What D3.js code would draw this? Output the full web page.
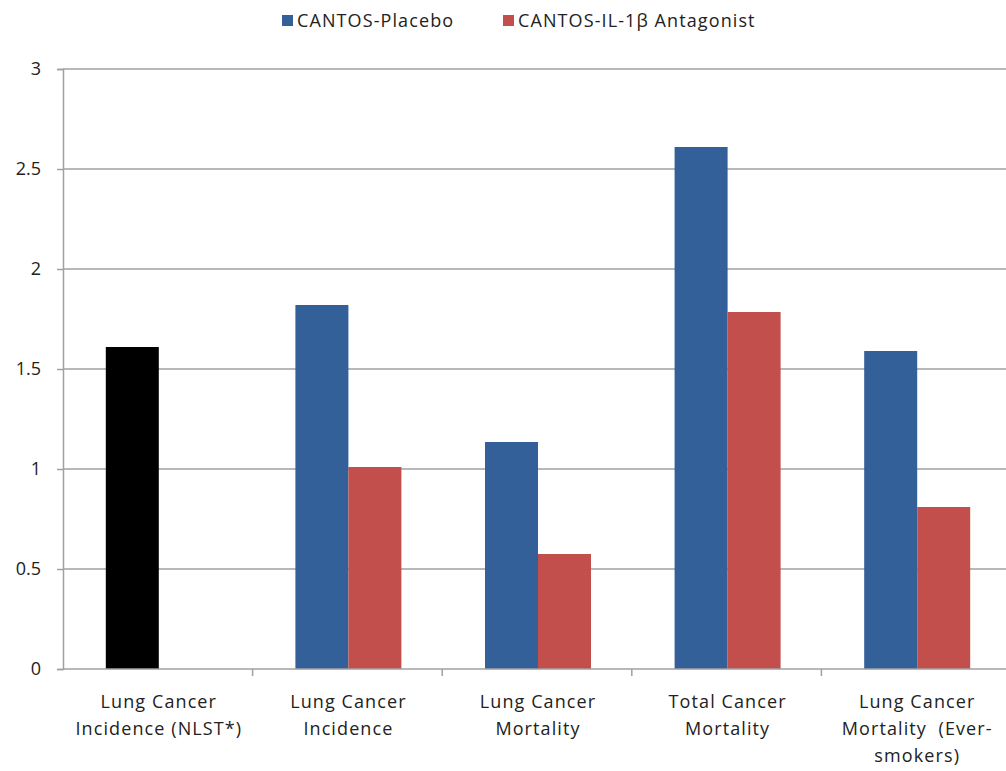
<!DOCTYPE html>
<html><head><meta charset="utf-8">
<script src="https://cdn.jsdelivr.net/npm/d3@7"></script>
<style>body{margin:0;background:#fff}svg{display:block}text{font-family:"Open Sans",sans-serif;fill:#222}</style>
</head><body>
<svg id="c" width="1006" height="771"></svg>
<script>
const categories = [["Lung Cancer","Incidence (NLST*)"],["Lung Cancer","Incidence"],["Lung Cancer","Mortality"],["Total Cancer","Mortality"],["Lung Cancer","Mortality\u00a0 (Ever-","smokers)"]];
const seriesNames = ["CANTOS-Placebo","CANTOS-IL-1\u03b2 Antagonist"];
const nlst = [1.61, null, null, null, null];
const placebo = [null, 1.82, 1.135, 2.61, 1.59];
const antagonist = [null, 1.01, 0.575, 1.785, 0.81];
const yTicks = [0, 0.5, 1, 1.5, 2, 2.5, 3];
const colors = {nlst:"#000000", placebo:"#34609a", antagonist:"#c24f4b"};

const svg = d3.select("#c");
const mLeft = 63, mRight = 1011, mTop = 69, mBottom = 669;
const idx = categories.map((d,i)=>i);
const x0 = d3.scaleBand().domain(idx).range([mLeft,mRight]).padding(0);
const y = d3.scaleLinear().domain([0,3]).range([mBottom,mTop]);
const x1 = d3.scaleBand().domain([0,1]).range([0,106]);
const off = (x0.bandwidth()-106)/2 + 1;

// gridlines
svg.append("g").selectAll("line").data(yTicks.filter(t=>t>0)).join("line")
  .attr("x1",mLeft).attr("x2",1006).attr("y1",d=>y(d)).attr("y2",d=>y(d))
  .attr("stroke","#a0a0a0").attr("stroke-width",1.5);

// y axis
const ya = svg.append("g").attr("transform",`translate(${mLeft},0)`)
  .call(d3.axisLeft(y).tickValues(yTicks).tickSize(6).tickPadding(16).tickFormat(d3.format("")));
ya.select(".domain").attr("stroke","#a0a0a0").attr("stroke-width",1.5);
ya.selectAll(".tick line").attr("stroke","#a0a0a0").attr("stroke-width",1.5);
ya.selectAll(".tick text").attr("font-size",18).attr("font-family","Open Sans").attr("fill","#222");

// bars
function drawSeries(vals, slot, color){
  svg.append("g").selectAll("rect").data(vals.map((v,i)=>({v,i})).filter(d=>d.v!=null)).join("rect")
    .attr("x",d=>x0(d.i)+off+x1(slot)).attr("width",x1.bandwidth())
    .attr("y",d=>y(d.v)).attr("height",d=>y(0)-y(d.v)).attr("fill",color);
}
drawSeries(nlst,0,colors.nlst);
drawSeries(placebo,0,colors.placebo);
drawSeries(antagonist,1,colors.antagonist);

// x axis
const xa = svg.append("g").attr("transform",`translate(0,${mBottom})`);
xa.append("line").attr("x1",mLeft).attr("x2",1006).attr("stroke","#a0a0a0").attr("stroke-width",1.5);
xa.selectAll(".tk").data(idx.slice(1)).join("line").attr("class","tk")
  .attr("x1",d=>x0(d)).attr("x2",d=>x0(d)).attr("y1",0).attr("y2",7)
  .attr("stroke","#a0a0a0").attr("stroke-width",1.5);
const lab = xa.selectAll(".lab").data(idx).join("text").attr("class","lab")
  .attr("text-anchor","middle").attr("font-size",18).attr("letter-spacing",1.1)
  .attr("transform",d=>`translate(${x0(d)+x0.bandwidth()/2+1},0)`);
lab.selectAll("tspan").data(d=>categories[d]).join("tspan")
  .attr("x",0).attr("y",(d,i)=>39+i*27).text(d=>d);

// legend
const leg = [{n:seriesNames[0],c:colors.placebo,x:282},{n:seriesNames[1],c:colors.antagonist,x:503}];
const lg = svg.append("g").selectAll("g").data(leg).join("g").attr("transform",d=>`translate(${d.x},0)`);
lg.append("rect").attr("x",0).attr("y",15).attr("width",11).attr("height",11).attr("fill",d=>d.c);
lg.append("text").attr("x",15).attr("y",27).attr("font-size",18).attr("letter-spacing",1.1).text(d=>d.n);
</script>
</body></html>
